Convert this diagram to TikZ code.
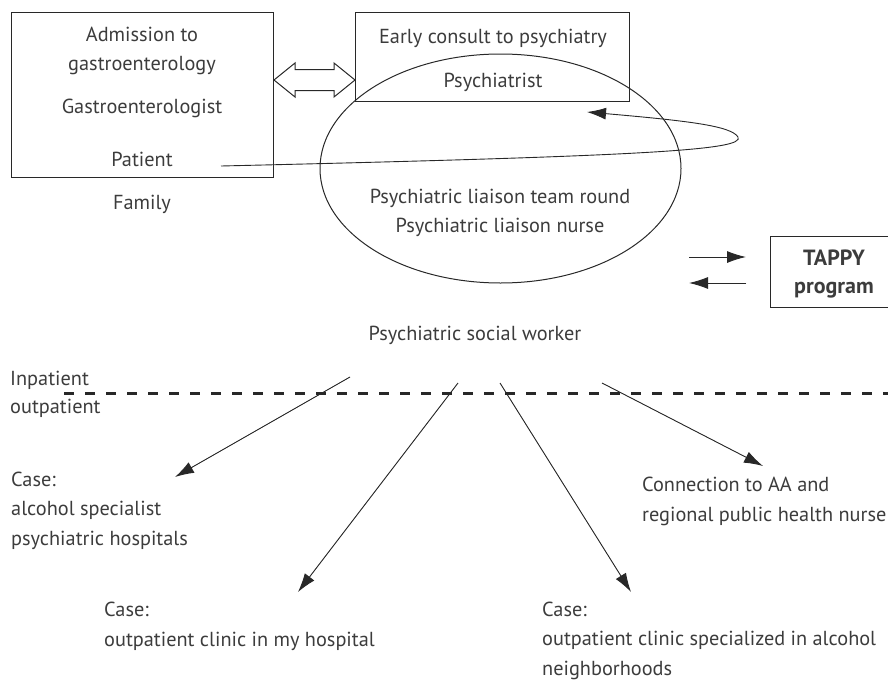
\documentclass[tikz,border=0pt]{standalone}
\usepackage{fontspec}
\setmainfont{PT Sans}
\usepackage{tikz}
\usetikzlibrary{positioning,calc,shapes,arrows.meta}
\definecolor{mygray}{RGB}{40,40,40}
\definecolor{mytext}{RGB}{60,60,60}
\tikzstyle{box}=[draw=mygray,line width=1pt,inner sep=0pt]
\tikzstyle{txt}=[text=mytext,font=\fontsize{20.3}{29.5}\selectfont,inner sep=0pt]
\tikzstyle{link}=[-{Latex[length=19pt,width=12pt]},line width=0.9pt,draw=mygray,fill=mygray]

\begin{document}
\begin{tikzpicture}[x=1pt,y=-1pt]
\useasboundingbox (0,0) rectangle (888,680);
\tikzstyle{case}=[txt,align=left,anchor=base west]
\tikzstyle{bold}=[txt,font=\fontsize{22}{29.5}\selectfont\bfseries,anchor=base]
% admission box
\node (A) [box,minimum width=262pt,minimum height=165pt] at (142,94.5) {};
\node (A1) [txt,anchor=base] at (142,41) {Admission to};
\node (A2) [txt,anchor=base] at (142,70) {gastroenterology};
\node (A3) [txt,anchor=base] at (142,113) {Gastroenterologist};
\node (A4) [txt,anchor=base] at (142,166) {Patient};
\node (F) [txt,anchor=base] at (142,209) {Family};
% consult box and team round
\node (B) [box,minimum width=274pt,minimum height=89pt] at (492,56.5) {};
\node (B1) [txt,anchor=base] at (493,43) {Early consult to psychiatry};
\node (B2) [txt,anchor=base] at (493,87) {Psychiatrist};
\node (E) [box,ellipse,minimum width=361pt,minimum height=229pt] at (500.5,168.5) {};
\node (E1) [txt,anchor=base] at (500,203) {Psychiatric liaison team round};
\node (E2) [txt,anchor=base] at (500,232) {Psychiatric liaison nurse};
% open double arrow between the boxes
\draw[box] (274,80) -- (295,63) -- (295,69.5) -- (334,69.5) -- (334,63) -- (355,80)
  -- (334,97) -- (334,90.5) -- (295,90.5) -- (295,97) -- cycle;
% TAPPY
\node (T) [box,minimum width=127pt,minimum height=71pt] at (833.5,271.5) {};
\node (T1) [bold] at (834,265) {TAPPY};
\node (T2) [bold] at (834,293) {program};
\coordinate (P1) at (689,257);
\coordinate (P2) at (746,257);
\coordinate (P3) at (746,283);
\coordinate (P4) at (689,283);
\draw[link] (P1) -- (P2);
\draw[link] (P3) -- (P4);
% loop from patient
\coordinate (L0) at (221,166);
\coordinate (L1) at (738,137);
\coordinate (L2) at (587,112);
\draw[link,fill=none] (L0) .. controls (650,156) and (745,150) .. (L1)
  .. controls (731,126) and (690,121) .. (L2);
% social worker
\node (S) [txt,anchor=base] at (475,340) {Psychiatric social worker};
\node (I) [txt,anchor=base west] at (10,385) {Inpatient};
\node (O) [txt,anchor=base west] at (10,413) {outpatient};
\draw[draw=mygray,line width=3pt,dash pattern=on 10pt off 11pt] (64,393) -- (888,393);
\node (C1) [case] at (11,545) {Case:\\alcohol specialist\\psychiatric hospitals};
\node (C2) [case] at (104,646) {Case:\\outpatient clinic in my hospital};
\node (C3) [case] at (542,675) {Case:\\outpatient clinic specialized in alcohol\\neighborhoods};
\node (C4) [case] at (642,521) {Connection to AA and\\regional public health nurse};
\coordinate (s1) at (350,377);
\coordinate (t1) at (175,477);
\coordinate (s2) at (458,383);
\coordinate (t2) at (298,592);
\coordinate (s3) at (500,383);
\coordinate (t3) at (631,592);
\coordinate (s4) at (602,383);
\coordinate (t4) at (763,466);
\draw[link] (s1) -- (t1);
\draw[link] (s2) -- (t2);
\draw[link] (s3) -- (t3);
\draw[link] (s4) -- (t4);
\end{tikzpicture}
\end{document}
